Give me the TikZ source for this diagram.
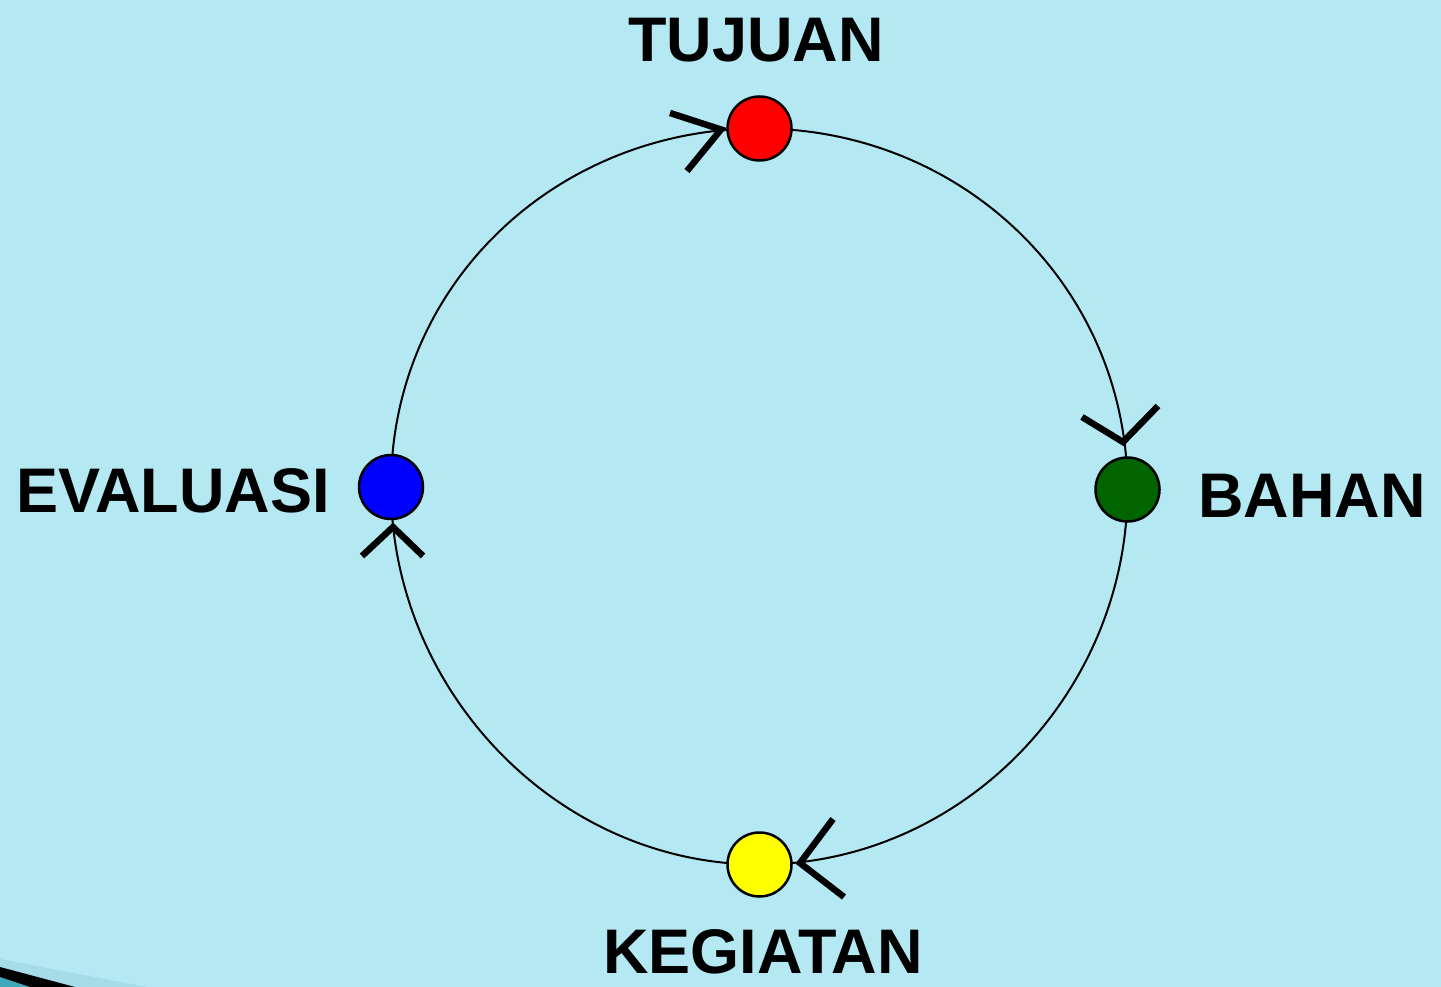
\documentclass[tikz,border=0pt]{standalone}
\usepackage{fontspec}
\setmainfont{Liberation Sans}
\usetikzlibrary{backgrounds}
\definecolor{bgc}{HTML}{B4E9F4}
\definecolor{bandc}{HTML}{A6DCE8}
\definecolor{tealc}{HTML}{3FA9BA}
\definecolor{dgreen}{HTML}{006400}
\definecolor{pyellow}{HTML}{FFFF00}
\definecolor{pred}{HTML}{FF0000}
\definecolor{pblue}{HTML}{0000FF}
\tikzset{
  dot/.style={circle, draw=black, line width=2.5pt, minimum size=64pt, inner sep=0pt},
  arcline/.style={draw=black, line width=2pt},
  barb/.style={draw=black, line width=6.5pt, line join=miter, line cap=butt},
  lbl/.style={inner sep=0pt, anchor=base, font=\fontsize{63}{70}\selectfont\bfseries}
}
\begin{document}
\begin{tikzpicture}[x=1pt,y=-1pt]
\useasboundingbox (0,0) rectangle (1441,987);
% nodes
\node[dot, fill=pred] (tujuan) at (759.5,128.5) {};
\node[dot, fill=dgreen] (bahan) at (1127.5,489.5) {};
\node[dot, fill=pyellow] (kegiatan) at (759.5,864.5) {};
\node[dot, fill=pblue] (evaluasi) at (391,487) {};
% labels
\node[lbl] (lT) at (756,62) {TUJUAN};
\node[lbl] (lB) at (1312,517) {BAHAN};
\node[lbl] (lK) at (763,973) {KEGIATAN};
\node[lbl] (lE) at (173,512) {EVALUASI};
\begin{scope}[on background layer]
  \fill[bgc] (0,0) rectangle (1441,987);
  \fill[bandc] (0,959) -- (147,987) -- (0,987) -- cycle;
  \fill[black] (0,967) -- (75,987) -- (0,987) -- cycle;
  \fill[tealc] (0,977) -- (30,987) -- (0,987) -- cycle;
  \draw[arcline] (tujuan.center) .. controls +(203,0) and +(0,-203) .. (bahan.center);
  \draw[arcline] (bahan.center) .. controls +(0,203) and +(203,0) .. (kegiatan.center);
  \draw[arcline] (kegiatan.center) .. controls +(-203,0) and +(0,203) .. (evaluasi.center);
  \draw[arcline] (evaluasi.center) .. controls +(0,-203) and +(-203,0) .. (tujuan.center);
\end{scope}
% arrowheads
\coordinate (tipT) at (721,129.5);
\coordinate (tipB) at (1123,442);
\coordinate (tipK) at (800,863);
\coordinate (tipE) at (393,527);
\draw[barb] ([shift={(-51,-16.5)}]tipT) -- (tipT) -- ([shift={(-34,41.5)}]tipT);
\draw[barb] ([shift={(-41,-25)}]tipB) -- (tipB) -- ([shift={(35,-36)}]tipB);
\draw[barb] ([shift={(33,-44)}]tipK) -- (tipK) -- ([shift={(44,34)}]tipK);
\draw[barb] ([shift={(-31,29)}]tipE) -- (tipE) -- ([shift={(30,29)}]tipE);
\end{tikzpicture}
\end{document}
